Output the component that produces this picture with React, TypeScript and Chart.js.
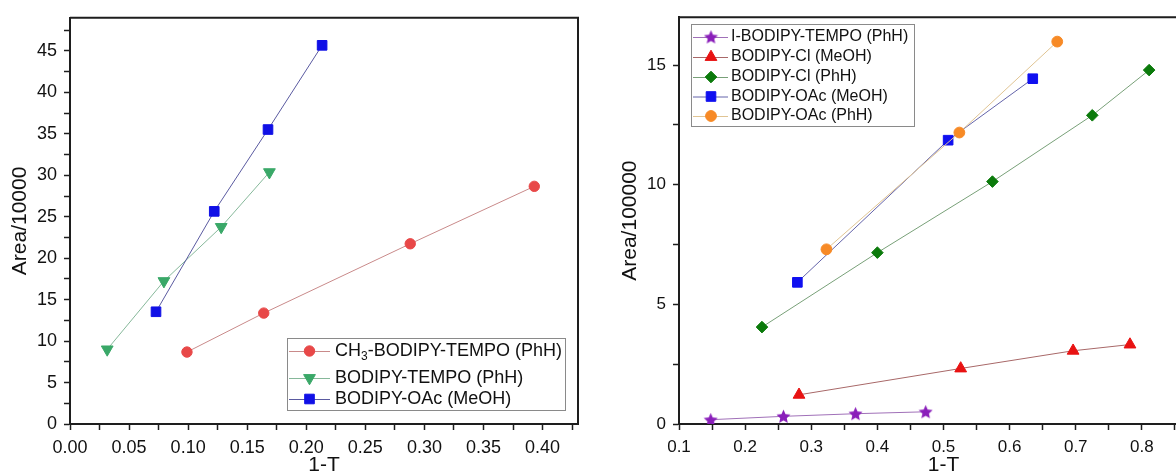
import React, { useEffect, useRef } from 'react';
import { Chart, registerables } from 'chart.js';
import { drawPoint } from 'chart.js/helpers';

Chart.register(...registerables);

const FONT = '"Liberation Sans", Arial, sans-serif';
const INK = '#111111';
const FRAME = '#1e1e1e';

// ---------- Left panel ----------
const leftXMajor = [0, 0.05, 0.1, 0.15, 0.2, 0.25, 0.3, 0.35, 0.4];
const leftXLabels = ['0.00', '0.05', '0.10', '0.15', '0.20', '0.25', '0.30', '0.35', '0.40'];
const leftYMajor = [0, 5, 10, 15, 20, 25, 30, 35, 40, 45];
const leftYLabels = ['0', '5', '10', '15', '20', '25', '30', '35', '40', '45'];

const leftNames = ['CH_3-BODIPY-TEMPO (PhH)', 'BODIPY-TEMPO (PhH)', 'BODIPY-OAc (MeOH)'];
const ch3TempoX = [0.099, 0.164, 0.288, 0.393];
const ch3TempoY = [8.68, 13.38, 21.74, 28.67];
const tempoX = [0.0315, 0.0795, 0.128, 0.1688];
const tempoY = [9.0, 17.24, 23.77, 30.38];
const oacMeohLeftX = [0.0728, 0.1221, 0.1676, 0.2134];
const oacMeohLeftY = [13.54, 25.65, 35.52, 45.68];

// ---------- Right panel ----------
const rightXMajor = [0.1, 0.2, 0.3, 0.4, 0.5, 0.6, 0.7, 0.8, 0.9];
const rightXLabels = ['0.1', '0.2', '0.3', '0.4', '0.5', '0.6', '0.7', '0.8', '0.9'];
const rightYMajor = [0, 5, 10, 15];
const rightYLabels = ['0', '5', '10', '15'];

const rightNames = [
  'I-BODIPY-TEMPO (PhH)',
  'BODIPY-Cl (MeOH)',
  'BODIPY-Cl (PhH)',
  'BODIPY-OAc (MeOH)',
  'BODIPY-OAc (PhH)',
];
const iTempoX = [0.148, 0.258, 0.367, 0.473];
const iTempoY = [0.18, 0.32, 0.43, 0.51];
const clMeohX = [0.2815, 0.526, 0.696, 0.782];
const clMeohY = [1.22, 2.32, 3.06, 3.32];
const clPhhX = [0.2255, 0.4, 0.574, 0.725, 0.811];
const clPhhY = [4.05, 7.16, 10.13, 12.9, 14.79];
const oacMeohRightX = [0.279, 0.507, 0.635];
const oacMeohRightY = [5.92, 11.86, 14.43];
const oacPhhX = [0.323, 0.524, 0.672];
const oacPhhY = [7.3, 12.18, 15.98];

function withMinors(majors: number[], min: number, max: number): number[] {
  const out: number[] = [];
  const half = (majors[1] - majors[0]) / 2;
  const all = [majors[0] - half, ...majors.flatMap((m) => [m, m + half])];
  for (const v of all) {
    const r = Math.round(v * 1e6) / 1e6;
    if (r >= min - 1e-9 && r <= max + 1e-9) out.push(r);
  }
  return out;
}

function labelOf(majors: number[], labels: string[]) {
  return (value: number | string) => {
    const v = Number(value);
    const i = majors.findIndex((m) => Math.abs(m - v) < 1e-6);
    return i >= 0 ? labels[i] : '';
  };
}

function makeStar(color: string, size: number) {
  const c = document.createElement('canvas');
  c.width = size;
  c.height = size;
  const g = c.getContext('2d')!;
  const cx = size / 2;
  const cy = size / 2 + 0.6;
  const R = size / 2 - 0.2;
  const r = R * 0.47;
  g.beginPath();
  for (let k = 0; k < 10; k++) {
    const a = -Math.PI / 2 + (k * Math.PI) / 5;
    const rr = k % 2 ? r : R;
    const px = cx + Math.cos(a) * rr;
    const py = cy + Math.sin(a) * rr;
    if (k === 0) g.moveTo(px, py);
    else g.lineTo(px, py);
  }
  g.closePath();
  g.fillStyle = color;
  g.fill();
  return c;
}

function series(label: string, xs: number[], ys: number[], line: string, fill: string, style: any, radius: number, rotation = 0, order = 0) {
  return {
    label,
    data: xs.map((x, i) => ({ x, y: ys[i] })),
    showLine: true,
    borderColor: line,
    borderWidth: 1,
    backgroundColor: fill,
    pointBackgroundColor: fill,
    pointBorderColor: fill,
    pointBorderWidth: 1,
    pointStyle: style,
    pointRadius: radius,
    pointHoverRadius: radius,
    pointRotation: rotation,
    order,
  };
}

const framePlugin = {
  id: 'frame',
  afterDraw(chart: any) {
    const { ctx, chartArea } = chart;
    ctx.save();
    ctx.strokeStyle = FRAME;
    ctx.lineWidth = 2;
    ctx.beginPath();
    ctx.moveTo(chartArea.left, chartArea.top);
    ctx.lineTo(chartArea.right, chartArea.top);
    ctx.lineTo(chartArea.right, chartArea.bottom);
    ctx.stroke();
    ctx.restore();
  },
};

function legendPlugin(cfg: {
  box: [number, number, number, number];
  rows: number[];
  lineX: [number, number];
  markerX: number;
  textX: number;
  size: number;
}) {
  return {
    id: 'customLegend',
    afterDraw(chart: any) {
      const ctx: CanvasRenderingContext2D = chart.ctx;
      ctx.save();
      const [bx, by, bw, bh] = cfg.box;
      ctx.fillStyle = '#ffffff';
      ctx.fillRect(bx, by, bw, bh);
      ctx.strokeStyle = '#8a8a8a';
      ctx.lineWidth = 1;
      ctx.strokeRect(bx + 0.5, by + 0.5, bw, bh);
      chart.data.datasets.forEach((ds: any, i: number) => {
        const y = cfg.rows[i];
        ctx.strokeStyle = ds.borderColor;
        ctx.lineWidth = 1;
        ctx.beginPath();
        ctx.moveTo(cfg.lineX[0], y + 0.5);
        ctx.lineTo(cfg.lineX[1], y + 0.5);
        ctx.stroke();
        ctx.fillStyle = ds.pointBackgroundColor;
        ctx.strokeStyle = ds.pointBorderColor;
        ctx.lineWidth = ds.pointBorderWidth;
        drawPoint(
          ctx,
          { pointStyle: ds.pointStyle, radius: ds.pointRadius, rotation: ds.pointRotation, borderWidth: ds.pointBorderWidth } as any,
          cfg.markerX,
          y
        );
        // text with optional subscripts (_d)
        ctx.fillStyle = INK;
        ctx.textBaseline = 'middle';
        ctx.textAlign = 'left';
        let x = cfg.textX;
        const parts = String(ds.label).split(/_(\d)/);
        parts.forEach((p: string, k: number) => {
          if (k % 2 === 1) {
            ctx.font = `${Math.round(cfg.size * 0.65)}px ${FONT}`;
            ctx.fillText(p, x, y + cfg.size * 0.32);
            x += ctx.measureText(p).width;
          } else {
            ctx.font = `${cfg.size}px ${FONT}`;
            ctx.fillText(p, x, y);
            x += ctx.measureText(p).width;
          }
        });
      });
      ctx.restore();
    },
  };
}

function axisCommon(size: number) {
  return {
    type: 'linear' as const,
    grid: {
      display: true,
      drawOnChartArea: false,
      drawTicks: true,
      tickLength: 6,
      tickColor: FRAME,
      tickWidth: 1.5,
    },
    border: { display: true, color: FRAME, width: 2 },
    ticks: {
      autoSkip: false,
      maxRotation: 0,
      minRotation: 0,
      color: INK,
      font: { family: FONT, size },
    },
  };
}

function buildConfig(opts: {
  datasets: any[];
  xMin: number;
  xMax: number;
  yMin: number;
  yMax: number;
  xMajor: number[];
  xLabels: string[];
  yMajor: number[];
  yLabels: string[];
  yTitle: string;
  yAxisWidth: number;
  yTitlePad: number;
  padRight: number;
  tickSize: number;
  legend: any;
}) {
  const xTicks = withMinors(opts.xMajor, opts.xMin, opts.xMax);
  const yTicks = withMinors(opts.yMajor, opts.yMin, opts.yMax);
  const xc = axisCommon(opts.tickSize);
  const yc = axisCommon(opts.tickSize);
  return {
    type: 'scatter' as const,
    data: { datasets: opts.datasets },
    options: {
      responsive: false,
      devicePixelRatio: 1,
      animation: false as const,
      events: [],
      layout: { padding: { left: 0, top: 14, right: opts.padRight, bottom: 0 } },
      plugins: { legend: { display: false }, tooltip: { enabled: false } },
      scales: {
        x: {
          ...xc,
          position: 'bottom',
          min: opts.xMin,
          max: opts.xMax,
          afterBuildTicks: (s: any) => {
            s.ticks = xTicks.map((v) => ({ value: v }));
          },
          afterFit: (s: any) => {
            s.height = 48;
          },
          ticks: { ...xc.ticks, padding: 7, callback: labelOf(opts.xMajor, opts.xLabels) },
          title: {
            display: true,
            text: '1-T',
            color: INK,
            font: { family: FONT, size: 21, lineHeight: 1 },
            padding: { top: 0, bottom: -4 },
          },
        },
        y: {
          ...yc,
          position: 'left',
          min: opts.yMin,
          max: opts.yMax,
          afterBuildTicks: (s: any) => {
            s.ticks = yTicks.map((v) => ({ value: v }));
          },
          afterFit: (s: any) => {
            s.width = opts.yAxisWidth;
          },
          ticks: { ...yc.ticks, padding: 7, callback: labelOf(opts.yMajor, opts.yLabels) },
          title: {
            display: true,
            text: opts.yTitle,
            color: INK,
            font: { family: FONT, size: 21, lineHeight: 1 },
            padding: { top: opts.yTitlePad, bottom: 0 },
          },
        },
      },
    },
    plugins: [framePlugin, legendPlugin(opts.legend)],
  };
}

export default function App() {
  const leftRef = useRef<HTMLCanvasElement>(null);
  const rightRef = useRef<HTMLCanvasElement>(null);

  useEffect(() => {
    const star = makeStar('#8a1fba', 15);
    const leftSets = [
      series(leftNames[0], ch3TempoX, ch3TempoY, '#c98a8a', '#e84848', 'circle', 5.2, 0, 3),
      series(leftNames[1], tempoX, tempoY, '#86b89a', '#3aa868', 'triangle', 6.8, 180, 2),
      series(leftNames[2], oacMeohLeftX, oacMeohLeftY, '#5a5aa0', '#1010e6', 'rect', 6.8, 0, 1),
    ];
    const rightSets = [
      series(rightNames[0], iTempoX, iTempoY, '#a070b8', '#8a1fba', star, 7, 0, 5),
      series(rightNames[1], clMeohX, clMeohY, '#a86868', '#e81212', 'triangle', 6.8, 0, 4),
      series(rightNames[2], clPhhX, clPhhY, '#78a078', '#0b7a0b', 'rectRot', 5.8, 0, 3),
      series(rightNames[3], oacMeohRightX, oacMeohRightY, '#6464aa', '#1010f0', 'rect', 6.8, 0, 2),
      series(rightNames[4], oacPhhX, oacPhhY, '#e0c493', '#f78a26', 'circle', 5.4, 0, 1),
    ];

    const left = new Chart(
      leftRef.current!,
      buildConfig({
        datasets: leftSets,
        xMin: 0,
        xMax: 0.43,
        yMin: 0,
        yMax: 49,
        xMajor: leftXMajor,
        xLabels: leftXLabels,
        yMajor: leftYMajor,
        yLabels: leftYLabels,
        yTitle: 'Area/10000',
        yAxisWidth: 70,
        yTitlePad: 10,
        padRight: 12,
        tickSize: 18,
        legend: {
          box: [287, 338, 278, 72],
          rows: [351, 378, 399],
          lineX: [289, 330],
          markerX: 309.5,
          textX: 335,
          size: 18,
        },
      }) as any
    );

    const right = new Chart(
      rightRef.current!,
      buildConfig({
        datasets: rightSets,
        xMin: 0.1,
        xMax: 0.9,
        yMin: 0,
        yMax: 17,
        xMajor: rightXMajor,
        xLabels: rightXLabels,
        yMajor: rightYMajor,
        yLabels: rightYLabels,
        yTitle: 'Area/100000',
        yAxisWidth: 89,
        yTitlePad: 30,
        padRight: 22,
        tickSize: 17,
        legend: {
          box: [101, 24, 223, 102],
          rows: [37, 57, 77, 96.5, 116],
          lineX: [103, 138],
          markerX: 121,
          textX: 141,
          size: 16,
        },
      }) as any
    );

    return () => {
      left.destroy();
      right.destroy();
    };
  }, []);

  return (
    <div
      style={{
        position: 'fixed',
        left: 0,
        top: 0,
        width: 1176,
        height: 472,
        overflow: 'hidden',
        background: '#ffffff',
      }}
    >
      <canvas
        ref={leftRef}
        width={590}
        height={472}
        style={{ position: 'absolute', left: 0, top: 0, width: 590, height: 472 }}
      />
      <canvas
        ref={rightRef}
        width={640}
        height={472}
        style={{ position: 'absolute', left: 590, top: 0, width: 640, height: 472 }}
      />
    </div>
  );
}
